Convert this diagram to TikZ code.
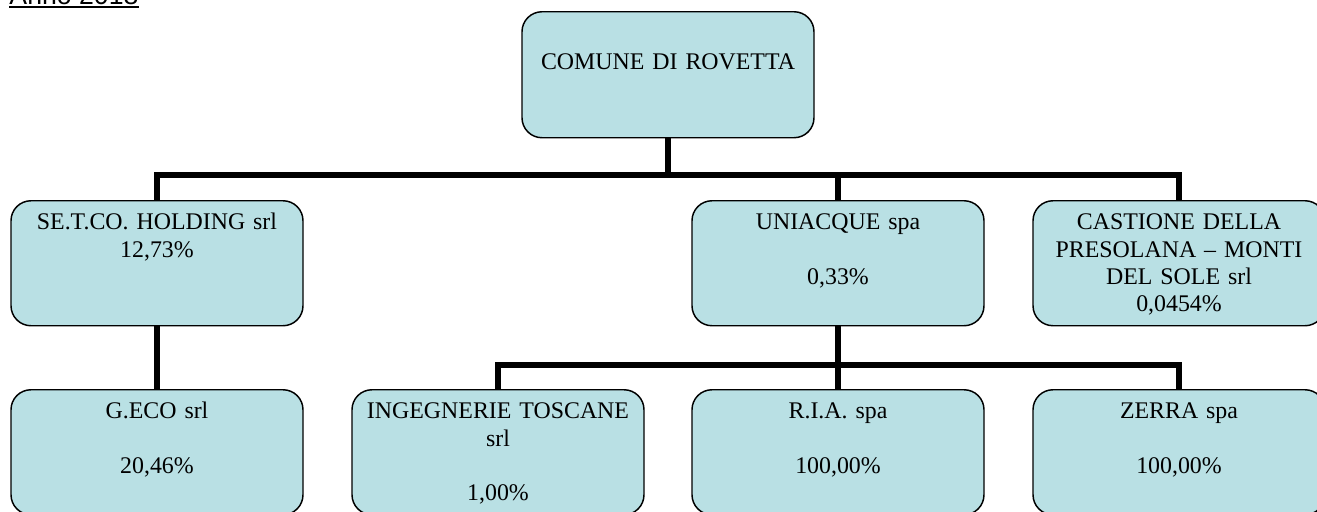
\documentclass[tikz,border=0pt]{standalone}
\usepackage{fontspec}
\setmainfont{Liberation Serif}
\setsansfont{Liberation Sans}
\usetikzlibrary{calc}
\definecolor{boxfill}{RGB}{185,224,228}

\tikzset{every picture/.style={line width=0.75pt}}
\tikzset{
  unit/.style={draw, line width=1.1pt, rounded corners=15pt, fill=boxfill,
    text width=219pt, align=center, inner xsep=0pt, inner ysep=0pt,
    text height=21.75pt, text depth=72pt, anchor=north,
    font=\fontsize{17.9}{20.5}\selectfont},
  link/.style={line width=4.5pt}
}

\begin{document}
\begin{tikzpicture}[x=0.75pt,y=0.75pt,yscale=-1,xscale=1]
	\useasboundingbox (0,0) rectangle (1317,511);
	\clip (0,0) rectangle (1317,511);

	% Title
	\node[anchor=base west, inner sep=0pt, font=\sffamily\fontsize{20}{24}\selectfont] (anno) at (9,4) {Anno 2018};
	\draw[line width=1.2pt] ($(anno.base west)+(0,3)$) -- ($(anno.base east)+(0,3)$);

	% Bus points
	\coordinate (bus1) at (668,175);
	\coordinate (bus2) at (838,365);

	% Top level
	\node[unit, text height=43.5pt, text depth=51pt] (comune) at (668,11) {COMUNE DI ROVETTA};

	% First level
	\node[unit] (setco) at (157,200) {SE.T.CO. HOLDING srl\\12,73\%};
	\node[unit] (uniacque) at (838,200) {UNIACQUE spa\\[20.5pt]0,33\%};
	\node[unit] (castione) at (1179,200) {CASTIONE DELLA\\PRESOLANA -- MONTI\\DEL SOLE srl\\0,0454\%};

	% Second level
	\node[unit] (geco) at (157,389) {G.ECO srl\\[20.5pt]20,46\%};
	\node[unit] (ingegnerie) at (498,389) {INGEGNERIE TOSCANE\\srl\\[20.5pt]1,00\%};
	\node[unit] (ria) at (838,389) {R.I.A. spa\\[20.5pt]100,00\%};
	\node[unit] (zerra) at (1179,389) {ZERRA spa\\[20.5pt]100,00\%};

	% Connectors
	\draw[link] (comune.south) -- (bus1);
	\draw[link] (setco.north) |- (bus1) -| (castione.north);
	\draw[link] (uniacque.north) -- (uniacque.north |- bus1);
	\draw[link] (setco.south) -- (geco.north);
	\draw[link] (uniacque.south) -- (bus2);
	\draw[link] (ingegnerie.north) |- (bus2) -| (zerra.north);
	\draw[link] (ria.north) -- (bus2);

\end{tikzpicture}
\end{document}
